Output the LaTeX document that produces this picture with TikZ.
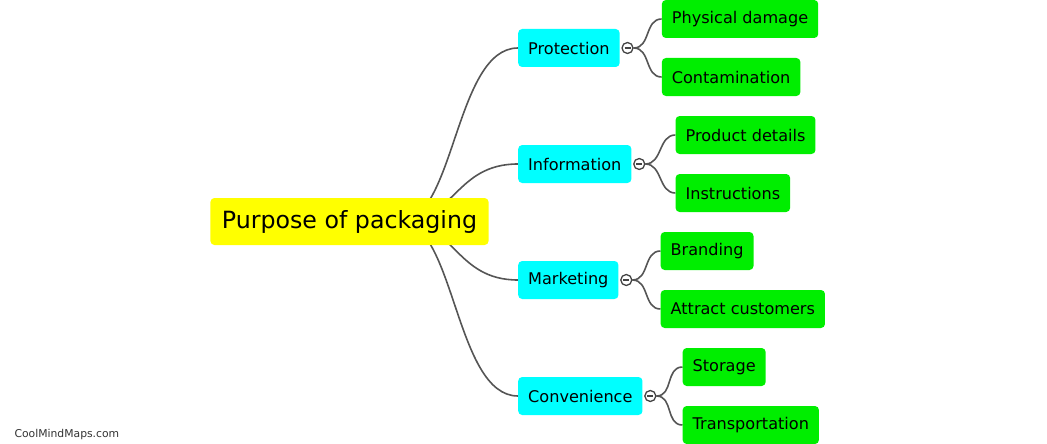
\documentclass[tikz,border=0pt]{standalone}
\usepackage{fontspec}
\setmainfont{DejaVu Sans}
\usetikzlibrary{positioning, backgrounds}

\definecolor{rootyellow}{HTML}{FFFF00}
\definecolor{branchcyan}{HTML}{00FFFF}
\definecolor{leafgreen}{HTML}{00EE00}
\definecolor{linegray}{HTML}{555555}

\begin{document}
\begin{tikzpicture}[x=1pt, y=-1pt, node distance=28pt]
    % Styles
    \tikzstyle{rootbox} = [rectangle, fill=rootyellow, rounded corners=4pt,
    inner xsep=11.5pt, minimum height=47pt, font=\fontsize{23.7}{28}\selectfont]
    \tikzstyle{branch} = [rectangle, fill=branchcyan, rounded corners=4pt,
    inner xsep=10pt, minimum height=38pt, font=\fontsize{16.1}{19}\selectfont, anchor=west]
    \tikzstyle{leaf} = [rectangle, fill=leafgreen, rounded corners=4pt,
    inner xsep=10pt, minimum height=38pt, font=\fontsize{16.1}{19}\selectfont]
    \tikzstyle{collapse} = [circle, draw=linegray!80!black, fill=white, line width=1.3pt,
    inner sep=0pt, minimum size=11pt,
    path picture={\draw[linegray!80!black, line width=1.3pt] ([xshift=-3pt]path picture bounding box.center) -- ([xshift=3pt]path picture bounding box.center);}]
    \tikzstyle{link} = [draw=linegray, line width=1.6pt]

    \useasboundingbox (0,0) rectangle (1047,444);

    % Nodes
    \node [rootbox] (root) at (349.5,221.5) {Purpose of packaging};
    \coordinate (hub) at (400,221.5);

    \node [branch] (prot) at (518,48) {Protection};
    \node [branch] (info) at (518,164) {Information};
    \node [branch] (mark) at (518,280) {Marketing};
    \node [branch] (conv) at (518,396) {Convenience};

    \node [collapse, right=1.5pt of prot] (pc) {};
    \node [collapse, right=1.5pt of info] (ic) {};
    \node [collapse, right=1.5pt of mark] (mc) {};
    \node [collapse, right=1.5pt of conv] (cc) {};

    \node [leaf, right=of pc, yshift=29pt] (phys) {Physical damage};
    \node [leaf, right=of pc, yshift=-29pt] (cont) {Contamination};
    \node [leaf, right=30pt of ic, yshift=29pt] (prod) {Product details};
    \node [leaf, right=30pt of ic, yshift=-29pt] (instr) {Instructions};
    \node [leaf, right=of mc, yshift=29pt] (brand) {Branding};
    \node [leaf, right=of mc, yshift=-29pt] (attr) {Attract customers};
    \node [leaf, right=26pt of cc, yshift=29pt] (stor) {Storage};
    \node [leaf, right=26pt of cc, yshift=-29pt] (trans) {Transportation};

    \node [anchor=west, text=black!80, font=\fontsize{10.8}{13}\selectfont] (site) at (11,435) {CoolMindMaps.com};

    % Connectors
    \begin{pgfonlayer}{background}
    \foreach \b in {prot, info, mark, conv}
        \draw [link] (hub) .. controls +(55,0) and +(-63,0) .. (\b.west);
    \foreach \c/\l in {pc/phys, pc/cont, ic/prod, ic/instr, mc/brand, mc/attr, cc/stor, cc/trans}
        \draw [link] (\c.east) .. controls +(17,0) and +(-17,0) .. (\l.west);
    \end{pgfonlayer}
\end{tikzpicture}
\end{document}
